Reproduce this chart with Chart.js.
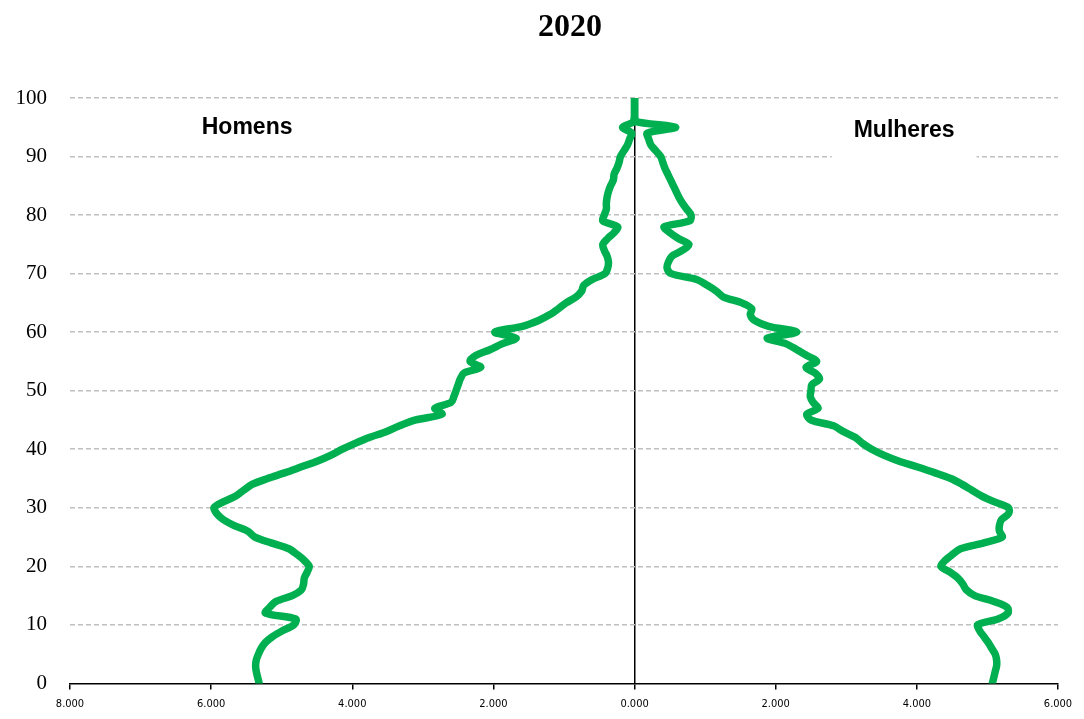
<!DOCTYPE html>
<html><head><meta charset="utf-8">
<script src="https://cdn.jsdelivr.net/npm/chart.js@4/dist/chart.umd.min.js"></script>
<style>html,body{margin:0;padding:0;background:#fff}</style>
</head><body>
<canvas id="c" width="1084" height="719"></canvas>
<script>
const chartTitle = "2020";
const labelHomens = "Homens";
const labelMulheres = "Mulheres";
const xTickLabels = ["8.000","6.000","4.000","2.000","0.000","2.000","4.000","6.000"];
const ages = [0,1,2,3,4,5,6,7,8,9,10,11,12,13,14,15,16,17,18,19,20,21,22,23,24,25,26,27,28,29,30,31,32,33,34,35,36,37,38,39,40,41,42,43,44,45,46,47,48,49,50,51,52,53,54,55,56,57,58,59,60,61,62,63,64,65,66,67,68,69,70,71,72,73,74,75,76,77,78,79,80,81,82,83,84,85,86,87,88,89,90,91,92,93,94,95,96,97,98,99,100];
const homens = [5320,5340,5360,5370,5360,5330,5290,5230,5130,4990,4830,4800,5230,5170,5080,4850,4720,4690,4680,4640,4610,4680,4780,4900,5150,5380,5480,5680,5830,5920,5960,5830,5650,5540,5420,5200,4950,4720,4490,4300,4140,3960,3760,3520,3330,3100,2730,2830,2600,2560,2530,2500,2470,2420,2180,2330,2250,2050,1880,1680,1980,1590,1360,1200,1080,970,830,750,720,600,420,380,370,390,430,450,380,290,240,450,430,400,400,390,370,340,300,290,250,220,200,150,100,70,40,170,0,0,0,0,0];
const mulheres = [5070,5090,5110,5130,5130,5110,5060,5010,4950,4890,4860,5150,5290,5280,5090,4820,4700,4650,4580,4470,4340,4400,4500,4620,4950,5210,5170,5170,5200,5300,5300,5100,4920,4780,4640,4480,4250,4000,3740,3530,3360,3230,3130,2960,2820,2500,2440,2600,2530,2490,2500,2510,2620,2560,2430,2580,2440,2300,2150,1880,2300,1900,1700,1640,1660,1520,1260,1160,1030,880,520,460,480,530,680,770,620,500,420,780,800,740,680,630,590,550,510,470,430,400,370,300,230,200,180,580,0,0,0,0,0];

const menPoints = ages.map((a, i) => ({x: -homens[i], y: a}));
const womenPoints = ages.map((a, i) => ({x: mulheres[i], y: a}));

const overlay = {
  id: 'overlay',
  beforeDatasetsDraw(chart) {
    const ctx = chart.ctx, xs = chart.scales.x, ys = chart.scales.y;
    ctx.save();
    ctx.font = 'bold 23px "Liberation Sans", Arial, sans-serif';
    ctx.textAlign = 'center';
    ctx.textBaseline = 'middle';
    const mx = xs.getPixelForValue(3820), my = ys.getPixelForValue(94.5);
    const mw = ctx.measureText(labelMulheres).width;
    ctx.fillStyle = '#fff';
    ctx.fillRect(mx - mw / 2 - 22, my - 24, mw + 44, 54);
    ctx.fillStyle = '#000';
    ctx.fillText(labelMulheres, mx, my);
    const hx = xs.getPixelForValue(-5490), hy = ys.getPixelForValue(95);
    ctx.fillText(labelHomens, hx, hy);
    ctx.restore();
  },
  afterDraw(chart) {
    const ctx = chart.ctx, ca = chart.chartArea;
    ctx.save();
    ctx.font = 'bold 32px "Liberation Serif", "Times New Roman", serif';
    ctx.textAlign = 'center';
    ctx.textBaseline = 'middle';
    ctx.fillStyle = '#000';
    ctx.fillText(chartTitle, (ca.left + ca.right) / 2 + 6, 28);
    ctx.restore();
  }
};

new Chart(document.getElementById('c'), {
  type: 'scatter',
  data: {
    datasets: [
      {label: labelHomens, data: menPoints, showLine: true, borderColor: '#00B050', backgroundColor: '#00B050', borderWidth: 7.5, pointRadius: 0, tension: 0.3, fill: false, borderCapStyle: 'round', borderJoinStyle: 'round'},
      {label: labelMulheres, data: womenPoints, showLine: true, borderColor: '#00B050', backgroundColor: '#00B050', borderWidth: 7.5, pointRadius: 0, tension: 0.3, fill: false, borderCapStyle: 'round', borderJoinStyle: 'round'}
    ]
  },
  options: {
    responsive: false,
    animation: false,
    devicePixelRatio: 1,
    layout: {padding: {top: 98, right: 26, bottom: 0, left: 0}},
    plugins: {legend: {display: false}, tooltip: {enabled: false}},
    scales: {
      x: {
        type: 'linear', min: -8000, max: 6000,
        afterFit(s) { s.height = 34; },
        grid: {
          color: c => (c.tick && c.tick.value === 0) ? '#000' : 'rgba(0,0,0,0)',
          lineWidth: 1.5, tickColor: '#000', tickLength: 6, tickWidth: 1.5, drawTicks: true
        },
        border: {display: true, color: '#000', width: 1.5},
        ticks: {
          stepSize: 2000, autoSkip: false, maxRotation: 0, padding: 8, color: '#000',
          font: {family: '"DejaVu Sans Condensed", "Liberation Sans Narrow", "Liberation Sans", sans-serif', size: 11},
          callback: (v, i) => xTickLabels[i]
        }
      },
      y: {
        type: 'linear', min: 0, max: 100,
        afterFit(s) { s.width = 70; },
        grid: {
          color: c => (c.tick && c.tick.value === 0) ? 'rgba(0,0,0,0)' : '#C0C0C0',
          lineWidth: 1.5, drawTicks: false
        },
        border: {display: false, dash: [5, 3]},
        ticks: {
          stepSize: 10, padding: 23, color: '#000',
          font: {family: '"Liberation Serif", "Times New Roman", serif', size: 21}
        }
      }
    }
  },
  plugins: [overlay]
});
</script>
</body></html>
